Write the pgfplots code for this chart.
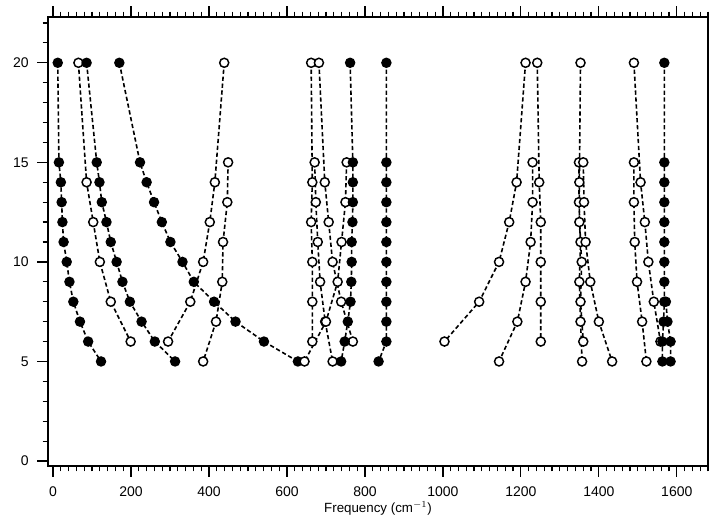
\documentclass[border=0pt]{standalone}
\usepackage{fontspec}
\setmainfont{Liberation Sans}
\usepackage{pgfplots}
\pgfplotsset{compat=1.18}
\pgfplotsset{
  fser/.style={black, line width=1.2pt, dash pattern=on 3.2pt off 2pt, mark=*, mark size=3.3pt, mark options={solid, fill=black}},
  oser/.style={black, line width=1.2pt, dash pattern=on 3.2pt off 2pt, mark=*, mark size=3.4pt, mark options={solid, fill=white, draw=black, line width=1.1pt}},
}
\begin{document}
\begin{tikzpicture}
\begin{axis}[
  scale only axis,
  width=495pt, height=336.75pt,
  xmin=-13, xmax=1680, ymin=-0.25, ymax=22.3,
  xtick={0,200,...,1600},
  minor xtick={0,20,...,1680},
  ytick={0,5,10,15,20},
  minor ytick={0,1,...,22},
  tick align=outside,
  xtick pos=both,
  ytick pos=left,
  major tick length=8pt,
  minor tick length=4pt,
  every tick/.style={black, line width=0.9pt},
  axis line style={line width=1.2pt},
  /pgf/number format/assume math mode=true,
  /pgf/number format/1000 sep={},
  ticklabel style={font=\fontsize{10.5}{12}\selectfont},
  xticklabel style={yshift=-4pt},
  yticklabel style={xshift=-3pt},
  xlabel={Frequency (cm$^{-1}$)},
  xlabel style={font=\fontsize{10}{12}\selectfont, yshift=3pt},
  clip=false,
]
% A filled
\addplot[fser] coordinates {(12,20)(15,15)(20,14)(22,13)(24,12)(27,11)(35,10)(42,9)(52,8)(69,7)(90,6)(123,5)};
% B open
\addplot[oser] coordinates {(65,20)(86,14)(103,12)(120,10)(148,8)(199,6)};
% C filled
\addplot[fser] coordinates {(86,20)(112,15)(119,14)(125,13)(137,12)(148,11)(163,10)(178,9)(197,8)(227,7)(261,6)(313,5)};
% D filled
\addplot[fser] coordinates {(170,20)(223,15)(240,14)(259,13)(279,12)(301,11)(332,10)(361,9)(413,8)(468,7)(541,6)(628,5)};
% E open
\addplot[oser] coordinates {(439,20)(415,14)(402,12)(385,10)(352,8)(295,6)};
% F open
\addplot[oser] coordinates {(449,15)(447,13)(436,11)(434,9)(418,7)(385,5)};
% G open
\addplot[oser] coordinates {(662,20)(665,14)(662,12)(665,10)(665,8)(665,6)};
% H open
\addplot[oser] coordinates {(682,20)(697,14)(707,12)(717,10)(739,8)(769,6)};
% K1 open
\addplot[oser] coordinates {(671,15)(674,13)(679,11)(685,9)(698,7)(717,5)};
% K2 open
\addplot[oser] coordinates {(753,15)(750,13)(740,11)(730,9)(700,7)(645,5)};
% L filled
\addplot[fser] coordinates {(762,20)(769,15)(769,14)(769,13)(768,12)(766,11)(766,10)(765,9)(763,8)(756,7)(748,6)(739,5)};
% M filled
\addplot[fser] coordinates {(855,20)(855,15)(855,14)(855,13)(855,12)(855,11)(855,10)(855,9)(855,8)(855,7)(855,6)(835,5)};
% U open
\addplot[oser] coordinates {(1212,20)(1189,14)(1170,12)(1144,10)(1093,8)(1004,6)};
% V open
\addplot[oser] coordinates {(1242,20)(1247,14)(1251,12)(1251,10)(1251,8)(1251,6)};
% W open
\addplot[oser] coordinates {(1230,15)(1230,13)(1225,11)(1212,9)(1191,7)(1144,5)};
% N open
\addplot[oser] coordinates {(1353,20)(1350,14)(1350,12)(1356,10)(1353,8)(1360,6)};
% O open
\addplot[oser] coordinates {(1349,15)(1349,13)(1353,11)(1350,9)(1353,7)(1357,5)};
% P open
\addplot[oser] coordinates {(1360,15)(1362,13)(1366,11)(1378,9)(1400,7)(1434,5)};
% R open
\addplot[oser] coordinates {(1490,20)(1507,14)(1518,12)(1527,10)(1541,8)(1558,6)};
% S open
\addplot[oser] coordinates {(1490,15)(1490,13)(1492,11)(1498,9)(1511,7)(1522,5)};
% T1 filled
\addplot[fser] coordinates {(1568,20)(1568,15)(1568,14)(1568,13)(1568,12)(1568,11)(1568,10)(1568,9)(1568,8)(1566,7)(1563,6)(1563,5)};
% T2 filled
\addplot[fser] coordinates {(1572,8)(1576,7)(1584,6)(1584,5)};
\end{axis}
\pgfresetboundingbox
\path (current axis.south west) ++(-36pt,-40.5pt) coordinate (bl);
\path (current axis.north east) ++(4.5pt,12.75pt) coordinate (tr);
\useasboundingbox (bl) rectangle (tr);
\end{tikzpicture}
\end{document}
